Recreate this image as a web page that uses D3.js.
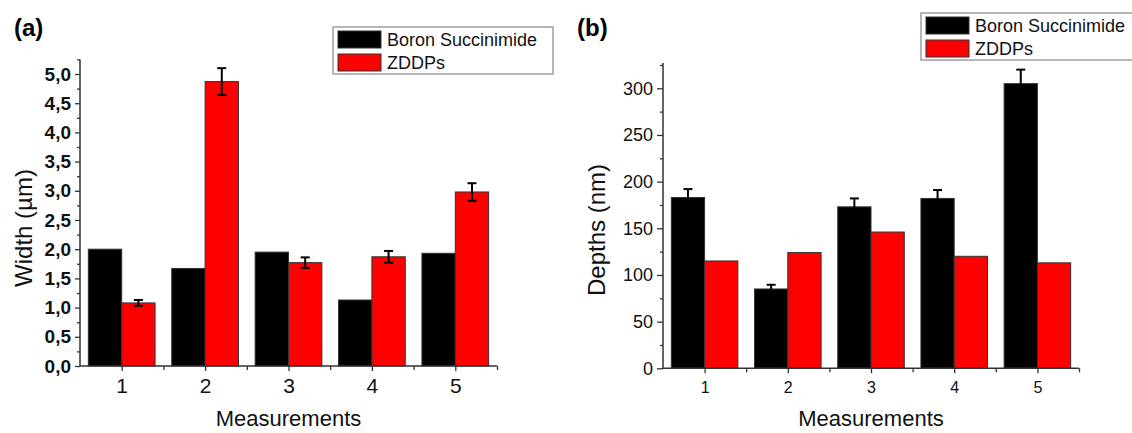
<!DOCTYPE html>
<html>
<head>
<meta charset="utf-8">
<script src="https://cdn.jsdelivr.net/npm/d3@7/dist/d3.min.js"></script>
<style>
  html, body { margin: 0; padding: 0; background: #fff; }
  svg { display: block; font-family: "Liberation Sans", Arial, sans-serif; }
</style>
</head>
<body>
<svg id="chart" width="1132" height="433"></svg>
<script>
// Measurement index shared by both panels
const categories = [1, 2, 3, 4, 5];
const seriesNames = ["Boron Succinimide", "ZDDPs"];
const seriesColors = ["#000000", "#ff0000"];

// Panel (a): wear-scar width, µm
const widthBoron = [2.00, 1.67, 1.95, 1.13, 1.93];
const widthZddp = [1.08, 4.87, 1.77, 1.87, 2.98];
const widthZddpErr = [0.05, 0.23, 0.09, 0.10, 0.15];
const widthTickValues = [0, 0.5, 1, 1.5, 2, 2.5, 3, 3.5, 4, 4.5, 5];
const widthTickLabels = ["0,0", "0,5", "1,0", "1,5", "2,0", "2,5", "3,0", "3,5", "4,0", "4,5", "5,0"];

// Panel (b): wear-scar depth, nm
const depthBoron = [183, 85, 173, 182, 305];
const depthBoronErr = [9, 4.5, 9, 9, 15];
const depthZddp = [115, 124, 146, 120, 113];
const depthTickValues = [0, 50, 100, 150, 200, 250, 300];
const depthTickLabels = ["0", "50", "100", "150", "200", "250", "300"];

const svg = d3.select("#chart");
const BAR = 0.4; // bar width in category units

function panel(cfg) {
  const g = svg.append("g");
  const x = d3.scaleLinear().domain([0.5, 5.5]).range(cfg.xRange);
  const y = d3.scaleLinear().domain(cfg.yDomain).range(cfg.yRange);

  // bars
  const rows = categories.map((c, i) => ({ c, i }));
  [cfg.a, cfg.b].forEach((vals, s) => {
    g.append("g").selectAll("rect").data(rows).join("rect")
      .attr("x", d => x(d.c + (s === 0 ? -BAR : 0)))
      .attr("width", x(1 + BAR) - x(1))
      .attr("y", d => y(vals[d.i]))
      .attr("height", d => y(0) - y(vals[d.i]))
      .attr("fill", seriesColors[s])
      .attr("stroke", "#333").attr("stroke-width", 1);
  });

  // error bars
  if (cfg.err) {
    const vals = cfg.errSeries === 0 ? cfg.a : cfg.b;
    const off = cfg.errSeries === 0 ? -BAR / 2 : BAR / 2;
    const eg = g.append("g").attr("stroke", "#000").attr("stroke-width", 2).attr("fill", "none");
    rows.forEach(d => {
      const cx = x(d.c + off);
      const top = y(vals[d.i] + cfg.err[d.i]);
      const bot = y(vals[d.i] - cfg.err[d.i]);
      eg.append("line").attr("x1", cx).attr("x2", cx).attr("y1", top).attr("y2", bot);
      eg.append("line").attr("x1", cx - 4.5).attr("x2", cx + 4.5).attr("y1", top).attr("y2", top);
      eg.append("line").attr("x1", cx - 4.5).attr("x2", cx + 4.5).attr("y1", bot).attr("y2", bot);
    });
  }

  // y axis: minor ticks then major ticks with labels
  const yMinor = d3.axisLeft(y).tickValues(cfg.yMinor).tickSize(3).tickFormat("");
  g.append("g").attr("transform", `translate(${cfg.xRange[0]},0)`).call(yMinor)
    .call(a => a.select(".domain").remove())
    .call(a => a.selectAll("line").attr("stroke", "#333").attr("stroke-width", 1.3));
  const yMajor = d3.axisLeft(y).tickValues(cfg.yTicks).tickSize(cfg.yTickLen).tickPadding(cfg.yPad)
    .tickFormat((v, i) => cfg.yLabels[i]);
  g.append("g").attr("transform", `translate(${cfg.xRange[0]},0)`).call(yMajor)
    .call(a => a.select(".domain").remove())
    .call(a => a.selectAll("line").attr("stroke", "#333").attr("stroke-width", 1.3))
    .call(a => a.selectAll("text").attr("font-family", "Liberation Sans, Arial, sans-serif")
      .attr("font-size", cfg.yFont).attr("font-weight", cfg.yBold ? "bold" : "normal").attr("fill", "#111"));

  // x axis: category ticks and boundary ticks
  const xMinor = d3.axisBottom(x).tickValues([1.5, 2.5, 3.5, 4.5, 5.5]).tickSize(4).tickFormat("");
  g.append("g").attr("transform", `translate(0,${y(0)})`).call(xMinor)
    .call(a => a.select(".domain").remove())
    .call(a => a.selectAll("line").attr("stroke", "#333").attr("stroke-width", 1.3));
  const xMajor = d3.axisBottom(x).tickValues(categories).tickSize(5).tickPadding(cfg.xPad).tickFormat(d3.format("d"));
  g.append("g").attr("transform", `translate(0,${y(0)})`).call(xMajor)
    .call(a => a.select(".domain").remove())
    .call(a => a.selectAll("line").attr("stroke", "#333").attr("stroke-width", 1.3))
    .call(a => a.selectAll("text").attr("font-family", "Liberation Sans, Arial, sans-serif")
      .attr("font-size", cfg.xFont).attr("fill", "#111"));

  // axis lines
  g.append("path")
    .attr("d", `M${cfg.xRange[0]},${cfg.yRange[1]}V${y(0)}H${cfg.xRange[1]}`)
    .attr("fill", "none").attr("stroke", "#333").attr("stroke-width", 1.5);

  // axis titles
  g.append("text").attr("x", d3.mean(cfg.xRange)).attr("y", 426)
    .attr("text-anchor", "middle").attr("font-size", 22).attr("fill", "#111").text("Measurements");
  g.append("text").attr("transform", `translate(${cfg.yTitleX},${cfg.yTitleY}) rotate(-90)`)
    .attr("text-anchor", "middle").attr("font-size", 24).attr("fill", "#111").text(cfg.yTitle);

  // panel letter
  g.append("text").attr("x", cfg.letterX).attr("y", 36)
    .attr("font-size", 24).attr("font-weight", "bold").attr("fill", "#000").text(cfg.letter);

  // legend
  const L = cfg.legend;
  const lg = g.append("g").attr("transform", `translate(${L.x},${L.y})`);
  lg.append("rect").attr("width", L.w).attr("height", 47)
    .attr("fill", "#fff").attr("stroke", "#a0a0a0").attr("stroke-width", 1.5);
  seriesNames.forEach((name, s) => {
    lg.append("rect").attr("x", 5).attr("y", 4 + s * 23).attr("width", 43).attr("height", 17)
      .attr("fill", seriesColors[s]).attr("stroke", "#333").attr("stroke-width", 1);
    lg.append("text").attr("x", 54).attr("y", 19 + s * 23)
      .attr("font-size", 18).attr("fill", "#111").text(name);
  });
}

panel({
  xRange: [80, 497], yDomain: [0, 5.25], yRange: [366, 59.4],
  a: widthBoron, b: widthZddp, err: widthZddpErr, errSeries: 1,
  yTicks: widthTickValues, yLabels: widthTickLabels,
  yMinor: d3.range(0.25, 5.3, 0.5),
  yTickLen: 5, yPad: 4, yFont: 19, yBold: true,
  xPad: 7, xFont: 21,
  yTitle: "Width (µm)", yTitleX: 32, yTitleY: 228,
  letter: "(a)", letterX: 14,
  legend: { x: 333, y: 27, w: 220 }
});

panel({
  xRange: [663, 1079], yDomain: [0, 327], yRange: [368.3, 63.1],
  a: depthBoron, b: depthZddp, err: depthBoronErr, errSeries: 0,
  yTicks: depthTickValues, yLabels: depthTickLabels,
  yMinor: d3.range(25, 330, 50),
  yTickLen: 6, yPad: 4, yFont: 18, yBold: false,
  xPad: 8, xFont: 16,
  yTitle: "Depths (nm)", yTitleX: 605, yTitleY: 230,
  letter: "(b)", letterX: 577,
  legend: { x: 921, y: 13, w: 240 }
});
</script>
</body>
</html>
